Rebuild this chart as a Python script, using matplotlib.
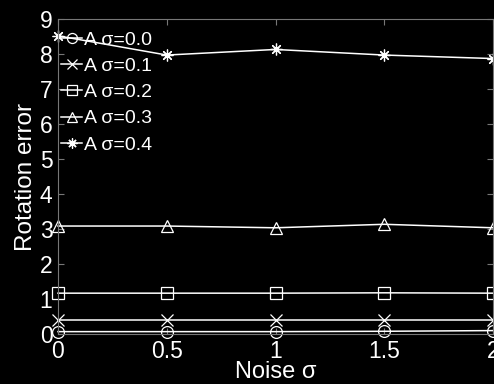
import matplotlib
matplotlib.use("Agg")
import matplotlib.pyplot as plt

noise = [0, 0.5, 1, 1.5, 2]
labels = ["A σ=0.0", "A σ=0.1", "A σ=0.2", "A σ=0.3", "A σ=0.4"]
s00 = [0.07, 0.07, 0.07, 0.08, 0.10]
s01 = [0.40, 0.40, 0.40, 0.40, 0.40]
s02 = [1.17, 1.17, 1.17, 1.18, 1.17]
s03 = [3.09, 3.09, 3.04, 3.14, 3.04]
s04 = [8.53, 7.98, 8.14, 7.98, 7.88]
series = [s00, s01, s02, s03, s04]
markers = ["o", "x", "s", "^", (8, 2, 0)]
xticks = [0, 0.5, 1, 1.5, 2]
xticklabels = ["0", "0.5", "1", "1.5", "2"]
yticks = list(range(10))

plt.rcParams['font.family'] = ['Liberation Sans', 'DejaVu Sans']
fig = plt.figure(figsize=(4.94, 3.84), dpi=100, facecolor='black')
ax = fig.add_axes([0.1174, 0.130, 0.8806, 0.8195], facecolor='black')

for vals, m, lab in zip(series, markers, labels):
    ax.plot(noise, vals, color='white', lw=1.1, marker=m, markersize=8.5,
            markerfacecolor='none', markeredgecolor='white', markeredgewidth=0.9,
            label=lab, clip_on=False)

ax.set_xlim(0, 2)
ax.set_ylim(0, 9)
ax.set_xticks(xticks)
ax.set_xticklabels(xticklabels)
ax.set_yticks(yticks)
for sp in ax.spines.values():
    sp.set_color('#777777')
    sp.set_linewidth(0.8)
ax.tick_params(direction='in', length=4, color='#777777', labelcolor='white',
               labelsize=16.5, pad=4, top=True, right=True)
ax.set_xlabel("Noise σ", color='white', fontsize=17, labelpad=-1)
ax.set_ylabel("Rotation error", color='white', fontsize=17.5, labelpad=2)

leg = ax.legend(loc='upper left', bbox_to_anchor=(0.007, 0.962), frameon=False,
                fontsize=14, labelcolor='white',
                handlelength=1.1, handletextpad=0.1, borderaxespad=0.0,
                labelspacing=0.44, borderpad=0.0, markerscale=0.85)

fig.savefig("out.png", dpi=100, facecolor='black')
